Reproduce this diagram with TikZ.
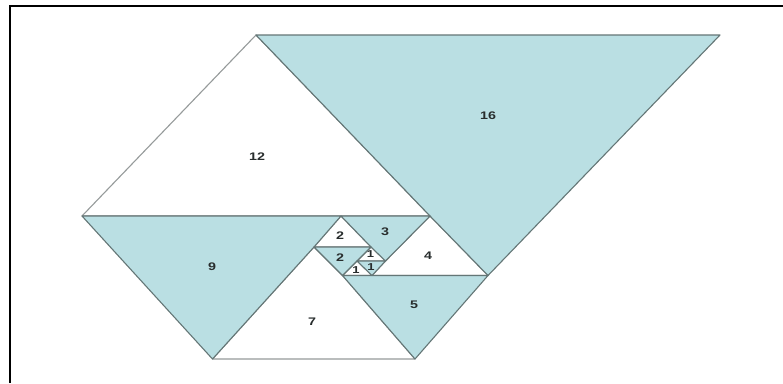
\documentclass[tikz,border=0pt]{standalone}
\usepackage{fontspec}
\setmainfont{Liberation Sans}
\newfontfamily\numfont[FakeStretch=1.3]{Liberation Sans}
\definecolor{padteal}{RGB}{186,223,227}
\definecolor{padedge}{RGB}{100,118,118}
\definecolor{lightedge}{RGB}{150,155,155}
\definecolor{numcol}{RGB}{40,45,45}
\tikzset{
  whitetri/.style={fill=white, draw=lightedge, line width=1.1pt, line join=round},
  tealtri/.style={fill=padteal, draw=padedge, line width=1.1pt, line join=round},
  num/.style={font=\numfont\fontsize{11}{12}\selectfont\bfseries, text=numcol, inner sep=0pt},
  smallnum/.style={num, font=\numfont\fontsize{10}{11}\selectfont\bfseries}
}
\begin{document}
\begin{tikzpicture}[x=1pt, y=-1pt]
  \useasboundingbox (0,0) rectangle (783,383);
  \fill[white] (0,0) rectangle (783,383);

  % frame
  \draw[line width=2pt] (10,383)--(10,6)--(783,6);

  % spiral corners
  \coordinate (A) at (256,35);
  \coordinate (B) at (720,35);
  \coordinate (C) at (488,275.5);
  \coordinate (D) at (82,216);
  \coordinate (E) at (430,216);
  \coordinate (F) at (341,216);
  \coordinate (G) at (212.5,359);
  \coordinate (H) at (415,359);
  \coordinate (I) at (314,247);
  \coordinate (J) at (342.5,275.5);
  \coordinate (K) at (372,275.5);
  \coordinate (L) at (385.5,261);
  \coordinate (M) at (371,247);
  \coordinate (N) at (357,261);

  % white triangles
  \draw[whitetri] (A)--(D)--(F)--(E)--cycle;
  \draw[whitetri] (I)--(G)--(H)--(J)--cycle;
  \draw[whitetri] (E)--(L)--(K)--(C)--cycle;
  \draw[whitetri] (F)--(I)--(M)--cycle;
  \draw[whitetri] (J)--(K)--(N)--cycle;
  \draw[whitetri] (N)--(L)--(M)--cycle;

  % teal triangles
  \draw[tealtri] (A)--(B)--(C)--(E)--cycle;
  \draw[tealtri] (D)--(F)--(I)--(G)--cycle;
  \draw[tealtri] (J)--(K)--(C)--(H)--cycle;
  \draw[tealtri] (F)--(E)--(L)--(M)--cycle;
  \draw[tealtri] (I)--(M)--(N)--(J)--cycle;
  \draw[tealtri] (N)--(L)--(K)--cycle;

  % side lengths
  \node[num] (n16) at (488,116) {16};
  \node[num] (n12) at (257,157) {12};
  \node[num] (n9) at (212,267) {9};
  \node[num] (n7) at (312,322) {7};
  \node[num] (n5) at (414,305) {5};
  \node[num] (n4) at (428,256) {4};
  \node[num] (n3) at (385,232) {3};
  \node[num] (n2a) at (340,236) {2};
  \node[num] (n2b) at (340,258) {2};
  \node[smallnum] (n1a) at (370.5,254) {1};
  \node[smallnum] (n1b) at (371,267) {1};
  \node[smallnum] (n1c) at (356,270) {1};
\end{tikzpicture}
\end{document}
